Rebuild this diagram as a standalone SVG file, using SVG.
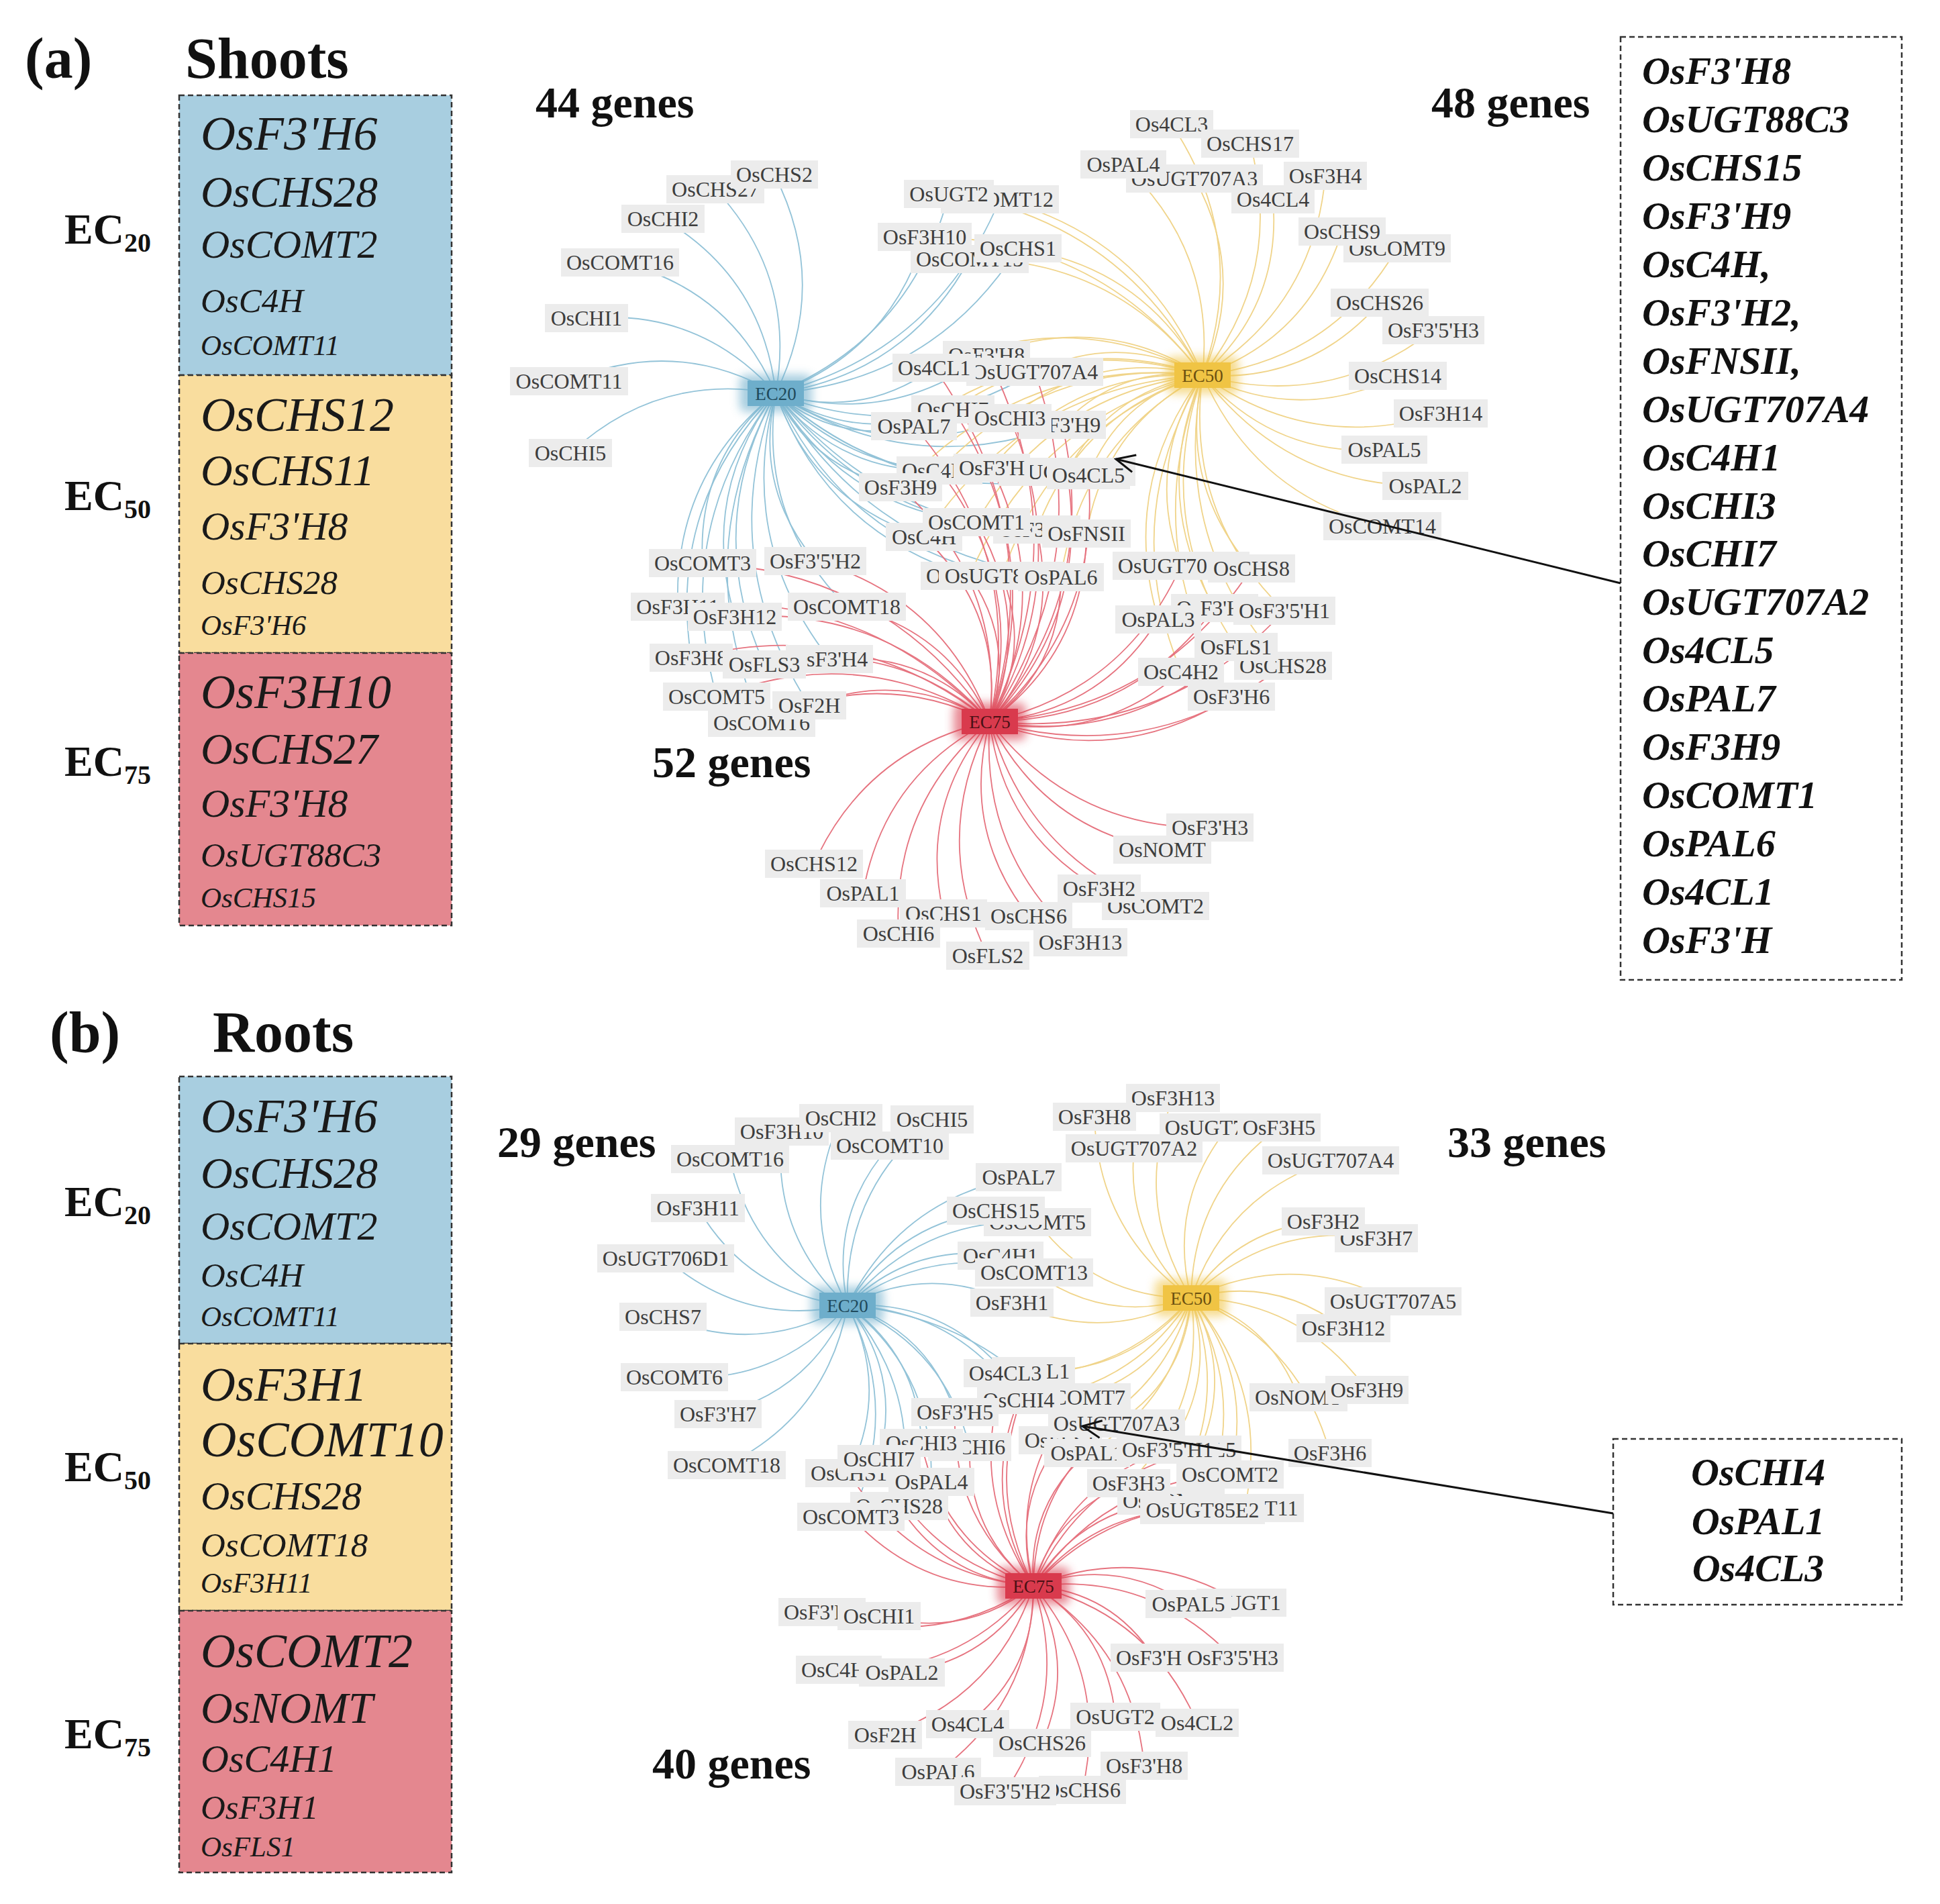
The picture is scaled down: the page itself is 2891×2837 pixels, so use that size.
<svg xmlns="http://www.w3.org/2000/svg" width="2891" height="2837" viewBox="0 0 2891 2837">
<defs>
<filter id="glow" x="-50%" y="-50%" width="200%" height="200%"><feGaussianBlur stdDeviation="7"/></filter>
<marker id="arr" markerUnits="userSpaceOnUse" markerWidth="34" markerHeight="34" viewBox="0 0 34 34" refX="31" refY="17" orient="auto"><path d="M3 4 L31 17 L3 30" fill="none" stroke="#111" stroke-width="3"/></marker>
</defs>
<style>
.lb rect{fill:#ececec;}
.lb text{font-family:"Liberation Serif",serif;font-size:32px;fill:#3d3d3d;text-anchor:middle;}
.e20 path{fill:none;stroke:#93c3d8;stroke-width:1.8;}
.e50 path{fill:none;stroke:#f0d48a;stroke-width:1.8;}
.e75 path{fill:none;stroke:#e6737f;stroke-width:1.8;}
.box{stroke:#333;stroke-width:2.5;stroke-dasharray:8 5;}
.bt{font-family:"Liberation Serif",serif;font-style:italic;fill:#1a1a1a;}
.rt{font-family:"Liberation Serif",serif;font-style:italic;font-weight:bold;font-size:58px;fill:#111;}
.hd{font-family:"Liberation Serif",serif;font-weight:bold;fill:#111;}
.ec text{font-family:"Liberation Serif",serif;font-size:27px;text-anchor:middle;}
.ar{stroke:#111;stroke-width:3;fill:none;}
</style>
<rect width="2891" height="2837" fill="#fff"/>

<!-- Headings -->
<g id="titles">
<text class="hd" x="37" y="116" font-size="86">(a)</text>
<text class="hd" x="276" y="116" font-size="86">Shoots</text>
<text class="hd" x="74" y="1567" font-size="86">(b)</text>
<text class="hd" x="317" y="1567" font-size="86">Roots</text>
<text class="hd" x="798" y="175" font-size="66">44 genes</text>
<text class="hd" x="2133" y="175" font-size="66">48 genes</text>
<text class="hd" x="972" y="1158" font-size="66">52 genes</text>
<text class="hd" x="741" y="1724" font-size="66">29 genes</text>
<text class="hd" x="2157" y="1724" font-size="66">33 genes</text>
<text class="hd" x="972" y="2650" font-size="66">40 genes</text>
</g>

<!-- Left side EC labels -->
<g id="ec-side-labels" class="hd">
<text x="96" y="363" font-size="64">EC<tspan dy="12" font-size="40">20</tspan></text>
<text x="96" y="760" font-size="64">EC<tspan dy="12" font-size="40">50</tspan></text>
<text x="96" y="1156" font-size="64">EC<tspan dy="12" font-size="40">75</tspan></text>
<text x="96" y="1812" font-size="64">EC<tspan dy="12" font-size="40">20</tspan></text>
<text x="96" y="2207" font-size="64">EC<tspan dy="12" font-size="40">50</tspan></text>
<text x="96" y="2605" font-size="64">EC<tspan dy="12" font-size="40">75</tspan></text>
</g>

<!-- Left boxes panel a -->
<g id="a-box-EC20">
<rect class="box" x="267" y="142" width="406" height="417" fill="#a8cee0"/>
<text class="bt" x="299" y="223" font-size="72">OsF3'H6</text>
<text class="bt" x="299" y="308" font-size="66">OsCHS28</text>
<text class="bt" x="299" y="384" font-size="60">OsCOMT2</text>
<text class="bt" x="299" y="465" font-size="51">OsC4H</text>
<text class="bt" x="299" y="529" font-size="43">OsCOMT11</text>
</g>
<g id="a-box-EC50">
<rect class="box" x="267" y="559" width="406" height="414" fill="#f9dd9e"/>
<text class="bt" x="299" y="642" font-size="72">OsCHS12</text>
<text class="bt" x="299" y="723" font-size="66">OsCHS11</text>
<text class="bt" x="299" y="804" font-size="60">OsF3'H8</text>
<text class="bt" x="299" y="885" font-size="51">OsCHS28</text>
<text class="bt" x="299" y="946" font-size="43">OsF3'H6</text>
</g>
<g id="a-box-EC75">
<rect class="box" x="267" y="973" width="406" height="406" fill="#e4878f"/>
<text class="bt" x="299" y="1055" font-size="72">OsF3H10</text>
<text class="bt" x="299" y="1138" font-size="66">OsCHS27</text>
<text class="bt" x="299" y="1217" font-size="60">OsF3'H8</text>
<text class="bt" x="299" y="1291" font-size="51">OsUGT88C3</text>
<text class="bt" x="299" y="1352" font-size="43">OsCHS15</text>
</g>

<!-- Left boxes panel b -->
<g id="b-box-EC20">
<rect class="box" x="267" y="1604" width="406" height="398" fill="#a8cee0"/>
<text class="bt" x="299" y="1687" font-size="72">OsF3'H6</text>
<text class="bt" x="299" y="1770" font-size="66">OsCHS28</text>
<text class="bt" x="299" y="1847" font-size="60">OsCOMT2</text>
<text class="bt" x="299" y="1917" font-size="51">OsC4H</text>
<text class="bt" x="299" y="1976" font-size="43">OsCOMT11</text>
</g>
<g id="b-box-EC50">
<rect class="box" x="267" y="2002" width="406" height="398" fill="#f9dd9e"/>
<text class="bt" x="299" y="2087" font-size="72">OsF3H1</text>
<text class="bt" x="299" y="2170" font-size="74">OsCOMT10</text>
<text class="bt" x="299" y="2249" font-size="60">OsCHS28</text>
<text class="bt" x="299" y="2319" font-size="51">OsCOMT18</text>
<text class="bt" x="299" y="2373" font-size="43">OsF3H11</text>
</g>
<g id="b-box-EC75">
<rect class="box" x="267" y="2400" width="406" height="390" fill="#e4878f"/>
<text class="bt" x="299" y="2484" font-size="72">OsCOMT2</text>
<text class="bt" x="299" y="2567" font-size="66">OsNOMT</text>
<text class="bt" x="299" y="2640" font-size="58">OsC4H1</text>
<text class="bt" x="299" y="2710" font-size="51">OsF3H1</text>
<text class="bt" x="299" y="2766" font-size="43">OsFLS1</text>
</g>

<!-- Right boxes -->
<g id="a-common-box">
<rect class="box" x="2415" y="55" width="419" height="1405" fill="#fff"/>
<text class="rt" x="2447" y="125">OsF3'H8</text>
<text class="rt" x="2447" y="197">OsUGT88C3</text>
<text class="rt" x="2447" y="269">OsCHS15</text>
<text class="rt" x="2447" y="341">OsF3'H9</text>
<text class="rt" x="2447" y="413">OsC4H,</text>
<text class="rt" x="2447" y="485">OsF3'H2,</text>
<text class="rt" x="2447" y="557">OsFNSII,</text>
<text class="rt" x="2447" y="629">OsUGT707A4</text>
<text class="rt" x="2447" y="701">OsC4H1</text>
<text class="rt" x="2447" y="773">OsCHI3</text>
<text class="rt" x="2447" y="844">OsCHI7</text>
<text class="rt" x="2447" y="916">OsUGT707A2</text>
<text class="rt" x="2447" y="988">Os4CL5</text>
<text class="rt" x="2447" y="1060">OsPAL7</text>
<text class="rt" x="2447" y="1132">OsF3H9</text>
<text class="rt" x="2447" y="1204">OsCOMT1</text>
<text class="rt" x="2447" y="1276">OsPAL6</text>
<text class="rt" x="2447" y="1348">Os4CL1</text>
<text class="rt" x="2447" y="1420">OsF3'H</text>
</g>
<g id="b-common-box">
<rect class="box" x="2404" y="2144" width="430" height="247" fill="#fff"/>
<text class="rt" x="2620" y="2213" text-anchor="middle">OsCHI4</text>
<text class="rt" x="2620" y="2286" text-anchor="middle">OsPAL1</text>
<text class="rt" x="2620" y="2356" text-anchor="middle">Os4CL3</text>
</g>

<!-- Connectors -->
<g id="connectors">
<g class="e20" transform="translate(1156 586)">
<path d="M0 0Q80.5 -163.5 -2 -326"/><path d="M0 0Q31 -174.5 -90 -304"/><path d="M0 0Q-19 -172 -168 -260"/><path d="M0 0Q-67 -155.5 -232 -195"/><path d="M0 0Q-113 -126.5 -282 -112"/><path d="M0 0Q-149.5 -86 -308 -18"/><path d="M0 0Q-175 -32 -306 89"/>
<path d="M0 0Q239 -61 334 -289"/><path d="M0 0Q203 -84 258 -297"/><path d="M0 0Q194.5 -28 289 -200"/><path d="M0 0Q169 -61 222 -233"/><path d="M0 0Q234.5 -18 361 -216"/>
<path d="M0 0Q171 50 314 -57"/><path d="M0 0Q127.5 40 236 -38"/><path d="M0 0Q201 80.5 386 -32"/><path d="M0 0Q126 78 264 24"/><path d="M0 0Q91 76 206 49"/><path d="M0 0Q165 106 349 37"/><path d="M0 0Q202 130 427 47"/><path d="M0 0Q93 118.5 244 115"/><path d="M0 0Q133 136 322 111"/><path d="M0 0Q188 167 434 117"/><path d="M0 0Q202.5 177.5 466 122"/><path d="M0 0Q58 116.5 186 140"/><path d="M0 0Q101.5 171 299 192"/><path d="M0 0Q57 162 221 214"/><path d="M0 0Q144 199 389 203"/><path d="M0 0Q179 220 463 209"/><path d="M0 0Q76.5 208 289 272"/><path d="M0 0Q100.5 220 337 272"/><path d="M0 0Q144 243 425 274"/>
<path d="M0 0Q-118 99 -109 253"/><path d="M0 0Q-33 140 59 250"/><path d="M0 0Q-152.5 122.5 -146 318"/><path d="M0 0Q-114 151 -61 333"/><path d="M0 0Q-26.5 185.5 106 318"/><path d="M0 0Q-161.5 165.5 -126 394"/><path d="M0 0Q-109.5 198 -17 404"/><path d="M0 0Q-59 218 80 396"/><path d="M0 0Q-157 204 -88 452"/><path d="M0 0Q-91 245 50 465"/><path d="M0 0Q-133 240 -21 491"/>
</g>
<g class="e50" transform="translate(1792 559)">
<path d="M0 0Q-85.5 -206.5 -302 -262"/><path d="M0 0Q-121.5 -229.5 -378 -270"/><path d="M0 0Q-130 -173 -347 -173"/><path d="M0 0Q-155.5 -206.5 -414 -206"/><path d="M0 0Q-90 -163 -275 -189"/>
<path d="M0 0Q-153.5 -95.5 -322 -30"/><path d="M0 0Q-197 -105.5 -400 -11"/><path d="M0 0Q-124 -65 -250 -5"/><path d="M0 0Q-199 -67.5 -372 51"/><path d="M0 0Q-234 -69.5 -430 76"/><path d="M0 0Q-159.5 -40 -287 64"/><path d="M0 0Q-123 -15 -209 74"/><path d="M0 0Q-231.5 -27 -392 142"/><path d="M0 0Q-191.5 -9.5 -314 138"/><path d="M0 0Q-137 21.5 -202 144"/><path d="M0 0Q-122 32 -170 149"/><path d="M0 0Q-267 -29 -450 167"/><path d="M0 0Q-223 25 -337 219"/><path d="M0 0Q-268 17 -415 241"/><path d="M0 0Q-181 53 -247 230"/><path d="M0 0Q-145.5 75 -173 236"/><path d="M0 0Q-248 63 -347 299"/><path d="M0 0Q-224 75 -299 299"/><path d="M0 0Q-181 98 -211 301"/>
<path d="M0 0Q-87 134 -32 284"/><path d="M0 0Q-35.5 162 73 288"/><path d="M0 0Q-124 165.5 -66 364"/><path d="M0 0Q-78 178 18 347"/><path d="M0 0Q-27 206 122 351"/><path d="M0 0Q-76 215 50 405"/><path d="M0 0Q-126.5 213 -32 442"/><path d="M0 0Q-48 246.5 120 433"/><path d="M0 0Q-98 250 43 479"/>
<path d="M0 0Q70.5 -198.5 -46 -374"/><path d="M0 0Q122 -155 71 -345"/><path d="M0 0Q19.5 -186.5 -118 -314"/><path d="M0 0Q67 -149.5 -12 -293"/><path d="M0 0Q166 -103 183 -297"/><path d="M0 0Q118 -105 105 -262"/><path d="M0 0Q157.5 -55 208 -214"/><path d="M0 0Q192 -22 290 -189"/><path d="M0 0Q159 12 264 -108"/><path d="M0 0Q189 52.5 344 -67"/><path d="M0 0Q145 73 291 1"/><path d="M0 0Q163 117 355 57"/><path d="M0 0Q108 123 271 111"/><path d="M0 0Q125 165.5 332 165"/><path d="M0 0Q78 179.5 268 225"/>
</g>
<g class="e75" transform="translate(1475 1075)">
<path d="M0 0Q134 -274 -5 -546"/><path d="M0 0Q90 -284 -83 -527"/><path d="M0 0Q164 -244 67 -521"/><path d="M0 0Q89 -246 -55 -465"/><path d="M0 0Q53.5 -248 -113 -440"/><path d="M0 0Q128 -218.5 30 -452"/><path d="M0 0Q164.5 -194 108 -442"/><path d="M0 0Q56 -206 -75 -374"/><path d="M0 0Q96 -188 3 -378"/><path d="M0 0Q150.5 -157 115 -372"/><path d="M0 0Q165 -147 147 -367"/><path d="M0 0Q21 -208 -133 -349"/><path d="M0 0Q64 -153.5 -20 -297"/><path d="M0 0Q20 -162 -98 -275"/><path d="M0 0Q106.5 -125.5 70 -286"/><path d="M0 0Q142 -104 144 -280"/><path d="M0 0Q39 -116 -30 -217"/><path d="M0 0Q63 -104 18 -217"/><path d="M0 0Q107 -81 106 -215"/>
<path d="M0 0Q-155 -225 -428 -236"/><path d="M0 0Q-70 -184.5 -260 -239"/><path d="M0 0Q-190 -202 -465 -171"/><path d="M0 0Q-151 -173 -380 -156"/><path d="M0 0Q-64 -139 -213 -171"/><path d="M0 0Q-199 -159 -445 -95"/><path d="M0 0Q-147 -126.5 -336 -85"/><path d="M0 0Q-96 -106 -239 -93"/><path d="M0 0Q-194 -120 -407 -37"/><path d="M0 0Q-128.5 -79 -269 -24"/><path d="M0 0Q-170.5 -84 -340 2"/>
<path d="M0 0Q200.5 -45 285 -232"/><path d="M0 0Q252 -16.5 390 -228"/><path d="M0 0Q163.5 -13 251 -152"/><path d="M0 0Q210 -1 335 -169"/><path d="M0 0Q261 27 439 -165"/><path d="M0 0Q211 36 367 -111"/><path d="M0 0Q161 34 285 -74"/><path d="M0 0Q239 68 437 -83"/><path d="M0 0Q189 71.5 360 -37"/>
<path d="M0 0Q124.5 161 328 158"/><path d="M0 0Q81 160 257 191"/><path d="M0 0Q-184 40.5 -262 212"/><path d="M0 0Q-158.5 81 -189 256"/><path d="M0 0Q19 165 163 249"/><path d="M0 0Q55 199 247 275"/><path d="M0 0Q-106 126 -69 286"/><path d="M0 0Q-43.5 159.5 58 290"/><path d="M0 0Q-147 124 -136 316"/><path d="M0 0Q-89 174 -3 349"/><path d="M0 0Q-15 198 135 329"/>
</g>

<g class="e20" transform="translate(1263 1945)">
<path d="M0 0Q-114 -105 -98 -259"/><path d="M0 0Q-75 -137 -10 -279"/><path d="M0 0Q-6 -170 126 -277"/><path d="M0 0Q-142 -65 -175 -218"/><path d="M0 0Q-28 -135 63 -238"/><path d="M0 0Q80 -159 255 -191"/><path d="M0 0Q-148 -17 -223 -145"/><path d="M0 0Q75 -126 221 -141"/><path d="M0 0Q-153 33 -271 -70"/><path d="M0 0Q95.5 -94 228 -74"/><path d="M0 0Q-133 77 -275 17"/><path d="M0 0Q-102 118 -258 107"/><path d="M0 0Q-56 129 -193 162"/><path d="M0 0Q-30.5 164 -180 238"/>
<path d="M0 0Q110.5 -133 283 -124"/><path d="M0 0Q127 -94 278 -49"/><path d="M0 0Q121.5 -63 245 -4"/>
<path d="M0 0Q143 -8 235 101"/><path d="M0 0Q163 7 255 141"/><path d="M0 0Q233.5 21 357 220"/>
<path d="M0 0Q120 39.5 160 159"/><path d="M0 0Q106 75 110 205"/><path d="M0 0Q144 60 182 211"/><path d="M0 0Q81 103 47 229"/><path d="M0 0Q63.5 124.5 2 250"/><path d="M0 0Q128 100 125 263"/><path d="M0 0Q113 130 77 299"/><path d="M0 0Q81 156 5 315"/>
</g>
<g class="e50" transform="translate(1775 1934)">
<path d="M0 0Q-143 1 -229 -113"/><path d="M0 0Q-126.5 39.5 -234 -38"/><path d="M0 0Q-132 70 -267 7"/>
<path d="M0 0Q-110.5 125 -277 112"/><path d="M0 0Q-90.5 140 -257 152"/><path d="M0 0Q-20 154 -155 231"/>
<path d="M0 0Q-90 113 -235 109"/><path d="M0 0Q-48 116.5 -170 148"/><path d="M0 0Q-9 121 -111 187"/><path d="M0 0Q-44.5 155 -195 212"/><path d="M0 0Q39 122 -35 226"/><path d="M0 0Q63 110 13 226"/><path d="M0 0Q22.5 161 -93 276"/><path d="M0 0Q95 117 58 263"/><path d="M0 0Q60.5 158.5 -30 302"/><path d="M0 0Q87.5 154 17 316"/><path d="M0 0Q118 136.5 80 313"/>
<path d="M0 0Q161 64 207 231"/><path d="M0 0Q-88 -142 -27 -298"/><path d="M0 0Q-139.5 -99 -144 -270"/><path d="M0 0Q-98 -90 -85 -223"/><path d="M0 0Q-36 -141 55 -254"/><path d="M0 0Q2 -160 131 -254"/><path d="M0 0Q53 -154.5 208 -205"/><path d="M0 0Q70 -106 197 -114"/><path d="M0 0Q116 -113.5 276 -89"/><path d="M0 0Q152 -73 301 5"/><path d="M0 0Q125 -34 227 45"/><path d="M0 0Q117 34 160 148"/><path d="M0 0Q165 3 262 137"/>
</g>
<g class="e75" transform="translate(1540 2363)">
<path d="M0 0Q-100 -148 -42 -317"/><path d="M0 0Q-80 -133 -22 -277"/><path d="M0 0Q-9.5 -119 80 -198"/>
<path d="M0 0Q-123 -100 -117 -259"/><path d="M0 0Q-137 -65 -167 -213"/><path d="M0 0Q-99 -80 -95 -207"/><path d="M0 0Q-162 -37 -230 -189"/><path d="M0 0Q-179.5 -15 -275 -168"/><path d="M0 0Q-115 -39.5 -152 -155"/><path d="M0 0Q-130 -9.5 -200 -119"/><path d="M0 0Q-162 16.5 -272 -103"/>
<path d="M0 0Q-80 -160 0 -320"/><path d="M0 0Q-38 -157 65 -281"/><path d="M0 0Q1.5 -152 124 -242"/><path d="M0 0Q-34 -118.5 40 -217"/><path d="M0 0Q49 -151.5 200 -203"/><path d="M0 0Q73 -163.5 248 -203"/><path d="M0 0Q33 -112 142 -153"/><path d="M0 0Q105 -156 293 -166"/><path d="M0 0Q71 -115 205 -127"/><path d="M0 0Q98 -119.5 252 -113"/><path d="M0 0Q128.5 -137 315 -116"/>
<path d="M0 0Q-148 98 -315 39"/><path d="M0 0Q-104 80 -230 45"/><path d="M0 0Q-114 135 -290 125"/><path d="M0 0Q-66 113.5 -196 129"/><path d="M0 0Q122 -44 231 27"/><path d="M0 0Q161 -65 310 25"/><path d="M0 0Q117 8.5 180 107"/><path d="M0 0Q175 -21 297 107"/><path d="M0 0Q-55 166 -221 222"/><path d="M0 0Q2.5 127.5 -98 206"/><path d="M0 0Q65 114 13 234"/><path d="M0 0Q110 67 122 195"/><path d="M0 0Q173 41 244 204"/><path d="M0 0Q-2 174 -142 277"/><path d="M0 0Q149.5 93 165 268"/><path d="M0 0Q55.5 163.5 -42 306"/><path d="M0 0Q112.5 134 73 304"/>
</g>
</g>

<!-- Gene labels panel a -->
<g id="a-labels" class="lb">
<g id="a-OsCHS27" transform="translate(1066 282)"><rect x="-73" y="-21" width="146" height="42"/><text y="11">OsCHS27</text></g>
<g id="a-OsCHS2" transform="translate(1154 260)"><rect x="-65" y="-21" width="130" height="42"/><text y="11">OsCHS2</text></g>
<g id="a-OsCHI2" transform="translate(988 326)"><rect x="-62" y="-21" width="124" height="42"/><text y="11">OsCHI2</text></g>
<g id="a-OsCOMT16" transform="translate(924 391)"><rect x="-88" y="-21" width="176" height="42"/><text y="11">OsCOMT16</text></g>
<g id="a-OsCHI1" transform="translate(874 474)"><rect x="-62" y="-21" width="124" height="42"/><text y="11">OsCHI1</text></g>
<g id="a-OsCOMT11" transform="translate(848 568)"><rect x="-88" y="-21" width="176" height="42"/><text y="11">OsCOMT11</text></g>
<g id="a-OsCHI5" transform="translate(850 675)"><rect x="-62" y="-21" width="124" height="42"/><text y="11">OsCHI5</text></g>
<g id="a-OsCOMT12" transform="translate(1490 297)"><rect x="-88" y="-21" width="176" height="42"/><text y="11">OsCOMT12</text></g>
<g id="a-OsUGT2" transform="translate(1414 289)"><rect x="-67" y="-21" width="134" height="42"/><text y="11">OsUGT2</text></g>
<g id="a-OsF3H10" transform="translate(1378 353)"><rect x="-70" y="-21" width="140" height="42"/><text y="11">OsF3H10</text></g>
<g id="a-OsCOMT15" transform="translate(1445 386)"><rect x="-88" y="-21" width="176" height="42"/><text y="11">OsCOMT15</text></g>
<g id="a-OsCHS1" transform="translate(1517 370)"><rect x="-65" y="-21" width="130" height="42"/><text y="11">OsCHS1</text></g>
<g id="a-OsF3pH8" transform="translate(1470 529)"><rect x="-65" y="-21" width="130" height="42"/><text y="11">OsF3'H8</text></g>
<g id="a-OsUGT707A4" transform="translate(1542 554)"><rect x="-102" y="-21" width="204" height="42"/><text y="11">OsUGT707A4</text></g>
<g id="a-Os4CL1" transform="translate(1392 548)"><rect x="-62" y="-21" width="124" height="42"/><text y="11">Os4CL1</text></g>
<g id="a-OsCHI7" transform="translate(1420 610)"><rect x="-62" y="-21" width="124" height="42"/><text y="11">OsCHI7</text></g>
<g id="a-OsF3pH9" transform="translate(1583 633)"><rect x="-65" y="-21" width="130" height="42"/><text y="11">OsF3'H9</text></g>
<g id="a-OsPAL7" transform="translate(1362 635)"><rect x="-64" y="-21" width="128" height="42"/><text y="11">OsPAL7</text></g>
<g id="a-OsCHI3" transform="translate(1505 623)"><rect x="-62" y="-21" width="124" height="42"/><text y="11">OsCHI3</text></g>
<g id="a-OsC4H1" transform="translate(1400 701)"><rect x="-64" y="-21" width="128" height="42"/><text y="11">OsC4H1</text></g>
<g id="a-OsUGT707A2" transform="translate(1590 703)"><rect x="-102" y="-21" width="204" height="42"/><text y="11">OsUGT707A2</text></g>
<g id="a-OsF3pH" transform="translate(1478 697)"><rect x="-57" y="-21" width="114" height="42"/><text y="11">OsF3'H</text></g>
<g id="a-Os4CL5" transform="translate(1622 708)"><rect x="-62" y="-21" width="124" height="42"/><text y="11">Os4CL5</text></g>
<g id="a-OsF3H9" transform="translate(1342 726)"><rect x="-62" y="-21" width="124" height="42"/><text y="11">OsF3H9</text></g>
<g id="a-OsF3pH2" transform="translate(1545 789)"><rect x="-65" y="-21" width="130" height="42"/><text y="11">OsF3'H2</text></g>
<g id="a-OsC4H" transform="translate(1377 800)"><rect x="-57" y="-21" width="114" height="42"/><text y="11">OsC4H</text></g>
<g id="a-OsCOMT1" transform="translate(1455 778)"><rect x="-80" y="-21" width="160" height="42"/><text y="11">OsCOMT1</text></g>
<g id="a-OsFNSII" transform="translate(1619 795)"><rect x="-66" y="-21" width="132" height="42"/><text y="11">OsFNSII</text></g>
<g id="a-OsCHS15" transform="translate(1445 858)"><rect x="-73" y="-21" width="146" height="42"/><text y="11">OsCHS15</text></g>
<g id="a-OsUGT88C3" transform="translate(1493 858)"><rect x="-94" y="-21" width="188" height="42"/><text y="11">OsUGT88C3</text></g>
<g id="a-OsPAL6" transform="translate(1581 860)"><rect x="-64" y="-21" width="128" height="42"/><text y="11">OsPAL6</text></g>
<g id="a-OsCOMT3" transform="translate(1047 839)"><rect x="-80" y="-21" width="160" height="42"/><text y="11">OsCOMT3</text></g>
<g id="a-OsF3p5pH2" transform="translate(1215 836)"><rect x="-76" y="-21" width="152" height="42"/><text y="11">OsF3'5'H2</text></g>
<g id="a-OsF3H11" transform="translate(1010 904)"><rect x="-70" y="-21" width="140" height="42"/><text y="11">OsF3H11</text></g>
<g id="a-OsF3H12" transform="translate(1095 919)"><rect x="-70" y="-21" width="140" height="42"/><text y="11">OsF3H12</text></g>
<g id="a-OsCOMT18" transform="translate(1262 904)"><rect x="-88" y="-21" width="176" height="42"/><text y="11">OsCOMT18</text></g>
<g id="a-OsF3H8" transform="translate(1030 980)"><rect x="-62" y="-21" width="124" height="42"/><text y="11">OsF3H8</text></g>
<g id="a-OsF3pH4" transform="translate(1236 982)"><rect x="-65" y="-21" width="130" height="42"/><text y="11">OsF3'H4</text></g>
<g id="a-OsFLS3" transform="translate(1139 990)"><rect x="-62" y="-21" width="124" height="42"/><text y="11">OsFLS3</text></g>
<g id="a-OsCOMT6" transform="translate(1135 1077)"><rect x="-80" y="-21" width="160" height="42"/><text y="11">OsCOMT6</text></g>
<g id="a-OsCOMT5" transform="translate(1068 1038)"><rect x="-80" y="-21" width="160" height="42"/><text y="11">OsCOMT5</text></g>
<g id="a-OsF2H" transform="translate(1206 1051)"><rect x="-55" y="-21" width="110" height="42"/><text y="11">OsF2H</text></g>
<g id="a-OsUGT707A1" transform="translate(1760 843)"><rect x="-102" y="-21" width="204" height="42"/><text y="11">OsUGT707A1</text></g>
<g id="a-OsCHS8" transform="translate(1865 847)"><rect x="-65" y="-21" width="130" height="42"/><text y="11">OsCHS8</text></g>
<g id="a-OsF3pH1" transform="translate(1810 906)"><rect x="-65" y="-21" width="130" height="42"/><text y="11">OsF3'H1</text></g>
<g id="a-OsF3p5pH1" transform="translate(1914 910)"><rect x="-76" y="-21" width="152" height="42"/><text y="11">OsF3'5'H1</text></g>
<g id="a-OsPAL3" transform="translate(1726 923)"><rect x="-64" y="-21" width="128" height="42"/><text y="11">OsPAL3</text></g>
<g id="a-OsCHS28" transform="translate(1912 992)"><rect x="-73" y="-21" width="146" height="42"/><text y="11">OsCHS28</text></g>
<g id="a-OsFLS1" transform="translate(1842 964)"><rect x="-62" y="-21" width="124" height="42"/><text y="11">OsFLS1</text></g>
<g id="a-OsC4H2" transform="translate(1760 1001)"><rect x="-64" y="-21" width="128" height="42"/><text y="11">OsC4H2</text></g>
<g id="a-OsF3pH6" transform="translate(1835 1038)"><rect x="-65" y="-21" width="130" height="42"/><text y="11">OsF3'H6</text></g>
<g id="a-OsUGT707A3" transform="translate(1780 266)"><rect x="-102" y="-21" width="204" height="42"/><text y="11">OsUGT707A3</text></g>
<g id="a-Os4CL3" transform="translate(1746 185)"><rect x="-62" y="-21" width="124" height="42"/><text y="11">Os4CL3</text></g>
<g id="a-OsCHS17" transform="translate(1863 214)"><rect x="-73" y="-21" width="146" height="42"/><text y="11">OsCHS17</text></g>
<g id="a-OsPAL4" transform="translate(1674 245)"><rect x="-64" y="-21" width="128" height="42"/><text y="11">OsPAL4</text></g>
<g id="a-OsF3H4" transform="translate(1975 262)"><rect x="-62" y="-21" width="124" height="42"/><text y="11">OsF3H4</text></g>
<g id="a-Os4CL4" transform="translate(1897 297)"><rect x="-62" y="-21" width="124" height="42"/><text y="11">Os4CL4</text></g>
<g id="a-OsCOMT9" transform="translate(2082 370)"><rect x="-80" y="-21" width="160" height="42"/><text y="11">OsCOMT9</text></g>
<g id="a-OsCHS9" transform="translate(2000 345)"><rect x="-65" y="-21" width="130" height="42"/><text y="11">OsCHS9</text></g>
<g id="a-OsCHS26" transform="translate(2056 451)"><rect x="-73" y="-21" width="146" height="42"/><text y="11">OsCHS26</text></g>
<g id="a-OsF3p5pH3" transform="translate(2136 492)"><rect x="-76" y="-21" width="152" height="42"/><text y="11">OsF3'5'H3</text></g>
<g id="a-OsCHS14" transform="translate(2083 560)"><rect x="-73" y="-21" width="146" height="42"/><text y="11">OsCHS14</text></g>
<g id="a-OsF3H14" transform="translate(2147 616)"><rect x="-70" y="-21" width="140" height="42"/><text y="11">OsF3H14</text></g>
<g id="a-OsPAL5" transform="translate(2063 670)"><rect x="-64" y="-21" width="128" height="42"/><text y="11">OsPAL5</text></g>
<g id="a-OsPAL2" transform="translate(2124 724)"><rect x="-64" y="-21" width="128" height="42"/><text y="11">OsPAL2</text></g>
<g id="a-OsCOMT14" transform="translate(2060 784)"><rect x="-88" y="-21" width="176" height="42"/><text y="11">OsCOMT14</text></g>
<g id="a-OsF3pH3" transform="translate(1803 1233)"><rect x="-65" y="-21" width="130" height="42"/><text y="11">OsF3'H3</text></g>
<g id="a-OsNOMT" transform="translate(1732 1266)"><rect x="-73" y="-21" width="146" height="42"/><text y="11">OsNOMT</text></g>
<g id="a-OsCHS12" transform="translate(1213 1287)"><rect x="-73" y="-21" width="146" height="42"/><text y="11">OsCHS12</text></g>
<g id="a-OsPAL1" transform="translate(1286 1331)"><rect x="-64" y="-21" width="128" height="42"/><text y="11">OsPAL1</text></g>
<g id="a-OsCOMT2" transform="translate(1722 1350)"><rect x="-80" y="-21" width="160" height="42"/><text y="11">OsCOMT2</text></g>
<g id="a-OsF3H2" transform="translate(1638 1324)"><rect x="-62" y="-21" width="124" height="42"/><text y="11">OsF3H2</text></g>
<g id="a-OsCHS1-b" transform="translate(1406 1361)"><rect x="-65" y="-21" width="130" height="42"/><text y="11">OsCHS1</text></g>
<g id="a-OsCHS6" transform="translate(1533 1365)"><rect x="-65" y="-21" width="130" height="42"/><text y="11">OsCHS6</text></g>
<g id="a-OsCHI6" transform="translate(1339 1391)"><rect x="-62" y="-21" width="124" height="42"/><text y="11">OsCHI6</text></g>
<g id="a-OsFLS2" transform="translate(1472 1424)"><rect x="-62" y="-21" width="124" height="42"/><text y="11">OsFLS2</text></g>
<g id="a-OsF3H13" transform="translate(1610 1404)"><rect x="-70" y="-21" width="140" height="42"/><text y="11">OsF3H13</text></g>
</g>

<!-- Gene labels panel b -->
<g id="b-labels" class="lb">
<g id="b-OsF3H10" transform="translate(1165 1686)"><rect x="-70" y="-21" width="140" height="42"/><text y="11">OsF3H10</text></g>
<g id="b-OsCHI2" transform="translate(1253 1666)"><rect x="-62" y="-21" width="124" height="42"/><text y="11">OsCHI2</text></g>
<g id="b-OsCHI5" transform="translate(1389 1668)"><rect x="-62" y="-21" width="124" height="42"/><text y="11">OsCHI5</text></g>
<g id="b-OsCOMT16" transform="translate(1088 1727)"><rect x="-88" y="-21" width="176" height="42"/><text y="11">OsCOMT16</text></g>
<g id="b-OsCOMT10" transform="translate(1326 1707)"><rect x="-88" y="-21" width="176" height="42"/><text y="11">OsCOMT10</text></g>
<g id="b-OsPAL7" transform="translate(1518 1754)"><rect x="-64" y="-21" width="128" height="42"/><text y="11">OsPAL7</text></g>
<g id="b-OsF3H11" transform="translate(1040 1800)"><rect x="-70" y="-21" width="140" height="42"/><text y="11">OsF3H11</text></g>
<g id="b-OsCOMT5" transform="translate(1546 1821)"><rect x="-80" y="-21" width="160" height="42"/><text y="11">OsCOMT5</text></g>
<g id="b-OsCHS15" transform="translate(1484 1804)"><rect x="-73" y="-21" width="146" height="42"/><text y="11">OsCHS15</text></g>
<g id="b-OsUGT706D1" transform="translate(992 1875)"><rect x="-102" y="-21" width="204" height="42"/><text y="11">OsUGT706D1</text></g>
<g id="b-OsC4H1" transform="translate(1491 1871)"><rect x="-64" y="-21" width="128" height="42"/><text y="11">OsC4H1</text></g>
<g id="b-OsCOMT13" transform="translate(1541 1896)"><rect x="-88" y="-21" width="176" height="42"/><text y="11">OsCOMT13</text></g>
<g id="b-OsF3H1" transform="translate(1508 1941)"><rect x="-62" y="-21" width="124" height="42"/><text y="11">OsF3H1</text></g>
<g id="b-OsCHS7" transform="translate(988 1962)"><rect x="-65" y="-21" width="130" height="42"/><text y="11">OsCHS7</text></g>
<g id="b-OsCOMT6" transform="translate(1005 2052)"><rect x="-80" y="-21" width="160" height="42"/><text y="11">OsCOMT6</text></g>
<g id="b-OsF3pH7" transform="translate(1070 2107)"><rect x="-65" y="-21" width="130" height="42"/><text y="11">OsF3'H7</text></g>
<g id="b-OsCOMT18" transform="translate(1083 2183)"><rect x="-88" y="-21" width="176" height="42"/><text y="11">OsCOMT18</text></g>
<g id="b-Os4CL1" transform="translate(1540 2043)"><rect x="-62" y="-21" width="124" height="42"/><text y="11">Os4CL1</text></g>
<g id="b-Os4CL3" transform="translate(1498 2046)"><rect x="-62" y="-21" width="124" height="42"/><text y="11">Os4CL3</text></g>
<g id="b-OsCOMT7" transform="translate(1605 2082)"><rect x="-80" y="-21" width="160" height="42"/><text y="11">OsCOMT7</text></g>
<g id="b-OsCHI4" transform="translate(1518 2086)"><rect x="-62" y="-21" width="124" height="42"/><text y="11">OsCHI4</text></g>
<g id="b-OsF3pH5" transform="translate(1423 2104)"><rect x="-65" y="-21" width="130" height="42"/><text y="11">OsF3'H5</text></g>
<g id="b-OsFLS1" transform="translate(1580 2146)"><rect x="-62" y="-21" width="124" height="42"/><text y="11">OsFLS1</text></g>
<g id="b-OsUGT707A3" transform="translate(1664 2121)"><rect x="-102" y="-21" width="204" height="42"/><text y="11">OsUGT707A3</text></g>
<g id="b-OsPAL1" transform="translate(1620 2165)"><rect x="-64" y="-21" width="128" height="42"/><text y="11">OsPAL1</text></g>
<g id="b-Os4CL5" transform="translate(1788 2160)"><rect x="-62" y="-21" width="124" height="42"/><text y="11">Os4CL5</text></g>
<g id="b-OsF3p5pH1" transform="translate(1740 2160)"><rect x="-76" y="-21" width="152" height="42"/><text y="11">OsF3'5'H1</text></g>
<g id="b-OsCHI6" transform="translate(1445 2156)"><rect x="-62" y="-21" width="124" height="42"/><text y="11">OsCHI6</text></g>
<g id="b-OsCHI3" transform="translate(1373 2150)"><rect x="-62" y="-21" width="124" height="42"/><text y="11">OsCHI3</text></g>
<g id="b-OsCHS1" transform="translate(1265 2195)"><rect x="-65" y="-21" width="130" height="42"/><text y="11">OsCHS1</text></g>
<g id="b-OsCHI7" transform="translate(1310 2174)"><rect x="-62" y="-21" width="124" height="42"/><text y="11">OsCHI7</text></g>
<g id="b-OsCHS28" transform="translate(1340 2244)"><rect x="-73" y="-21" width="146" height="42"/><text y="11">OsCHS28</text></g>
<g id="b-OsPAL4" transform="translate(1388 2208)"><rect x="-64" y="-21" width="128" height="42"/><text y="11">OsPAL4</text></g>
<g id="b-OsCOMT3" transform="translate(1268 2260)"><rect x="-80" y="-21" width="160" height="42"/><text y="11">OsCOMT3</text></g>
<g id="b-OsCOMT1" transform="translate(1745 2236)"><rect x="-80" y="-21" width="160" height="42"/><text y="11">OsCOMT1</text></g>
<g id="b-OsCOMT11" transform="translate(1855 2247)"><rect x="-88" y="-21" width="176" height="42"/><text y="11">OsCOMT11</text></g>
<g id="b-OsUGT85E2" transform="translate(1792 2250)"><rect x="-93" y="-21" width="186" height="42"/><text y="11">OsUGT85E2</text></g>
<g id="b-OsF3H3" transform="translate(1682 2210)"><rect x="-62" y="-21" width="124" height="42"/><text y="11">OsF3H3</text></g>
<g id="b-OsCOMT2" transform="translate(1833 2197)"><rect x="-80" y="-21" width="160" height="42"/><text y="11">OsCOMT2</text></g>
<g id="b-OsF3H6" transform="translate(1982 2165)"><rect x="-62" y="-21" width="124" height="42"/><text y="11">OsF3H6</text></g>
<g id="b-OsF3H13" transform="translate(1748 1636)"><rect x="-70" y="-21" width="140" height="42"/><text y="11">OsF3H13</text></g>
<g id="b-OsF3H8" transform="translate(1631 1664)"><rect x="-62" y="-21" width="124" height="42"/><text y="11">OsF3H8</text></g>
<g id="b-OsUGT707A2" transform="translate(1690 1711)"><rect x="-102" y="-21" width="204" height="42"/><text y="11">OsUGT707A2</text></g>
<g id="b-OsUGT707A1" transform="translate(1830 1680)"><rect x="-102" y="-21" width="204" height="42"/><text y="11">OsUGT707A1</text></g>
<g id="b-OsF3H5" transform="translate(1906 1680)"><rect x="-62" y="-21" width="124" height="42"/><text y="11">OsF3H5</text></g>
<g id="b-OsUGT707A4" transform="translate(1983 1729)"><rect x="-102" y="-21" width="204" height="42"/><text y="11">OsUGT707A4</text></g>
<g id="b-OsF3H7" transform="translate(2051 1845)"><rect x="-62" y="-21" width="124" height="42"/><text y="11">OsF3H7</text></g>
<g id="b-OsF3H2" transform="translate(1972 1820)"><rect x="-62" y="-21" width="124" height="42"/><text y="11">OsF3H2</text></g>
<g id="b-OsUGT707A5" transform="translate(2076 1939)"><rect x="-102" y="-21" width="204" height="42"/><text y="11">OsUGT707A5</text></g>
<g id="b-OsF3H12" transform="translate(2002 1979)"><rect x="-70" y="-21" width="140" height="42"/><text y="11">OsF3H12</text></g>
<g id="b-OsNOMT" transform="translate(1935 2082)"><rect x="-73" y="-21" width="146" height="42"/><text y="11">OsNOMT</text></g>
<g id="b-OsF3H9" transform="translate(2037 2071)"><rect x="-62" y="-21" width="124" height="42"/><text y="11">OsF3H9</text></g>
<g id="b-OsF3pH4" transform="translate(1225 2402)"><rect x="-65" y="-21" width="130" height="42"/><text y="11">OsF3'H4</text></g>
<g id="b-OsCHI1" transform="translate(1310 2408)"><rect x="-62" y="-21" width="124" height="42"/><text y="11">OsCHI1</text></g>
<g id="b-OsC4H1-r" transform="translate(1250 2488)"><rect x="-64" y="-21" width="128" height="42"/><text y="11">OsC4H1</text></g>
<g id="b-OsPAL2" transform="translate(1344 2492)"><rect x="-64" y="-21" width="128" height="42"/><text y="11">OsPAL2</text></g>
<g id="b-OsUGT1" transform="translate(1850 2388)"><rect x="-67" y="-21" width="134" height="42"/><text y="11">OsUGT1</text></g>
<g id="b-OsPAL5" transform="translate(1771 2390)"><rect x="-64" y="-21" width="128" height="42"/><text y="11">OsPAL5</text></g>
<g id="b-OsF3pH1" transform="translate(1720 2470)"><rect x="-65" y="-21" width="130" height="42"/><text y="11">OsF3'H1</text></g>
<g id="b-OsF3p5pH3" transform="translate(1837 2470)"><rect x="-76" y="-21" width="152" height="42"/><text y="11">OsF3'5'H3</text></g>
<g id="b-OsF2H" transform="translate(1319 2585)"><rect x="-55" y="-21" width="110" height="42"/><text y="11">OsF2H</text></g>
<g id="b-Os4CL4" transform="translate(1442 2569)"><rect x="-62" y="-21" width="124" height="42"/><text y="11">Os4CL4</text></g>
<g id="b-OsCHS26" transform="translate(1553 2597)"><rect x="-73" y="-21" width="146" height="42"/><text y="11">OsCHS26</text></g>
<g id="b-OsUGT2" transform="translate(1662 2558)"><rect x="-67" y="-21" width="134" height="42"/><text y="11">OsUGT2</text></g>
<g id="b-Os4CL2" transform="translate(1784 2567)"><rect x="-62" y="-21" width="124" height="42"/><text y="11">Os4CL2</text></g>
<g id="b-OsPAL6" transform="translate(1398 2640)"><rect x="-64" y="-21" width="128" height="42"/><text y="11">OsPAL6</text></g>
<g id="b-OsF3pH8" transform="translate(1705 2631)"><rect x="-65" y="-21" width="130" height="42"/><text y="11">OsF3'H8</text></g>
<g id="b-OsCHS6" transform="translate(1613 2667)"><rect x="-65" y="-21" width="130" height="42"/><text y="11">OsCHS6</text></g>
<g id="b-OsF3p5pH2" transform="translate(1498 2669)"><rect x="-76" y="-21" width="152" height="42"/><text y="11">OsF3'5'H2</text></g>
</g>

<!-- EC hub nodes -->
<g id="a-EC20" class="ec" transform="translate(1156 586)"><rect x="-54" y="-28" width="108" height="56" rx="10" fill="#6eaecb" opacity="0.6" filter="url(#glow)"/><rect x="-42" y="-19" width="84" height="38" fill="#6eaecb"/><text y="10" fill="#1f4a5c">EC20</text></g>
<g id="a-EC50" class="ec" transform="translate(1792 559)"><rect x="-54" y="-28" width="108" height="56" rx="10" fill="#f0c444" opacity="0.6" filter="url(#glow)"/><rect x="-42" y="-19" width="84" height="38" fill="#f0c444"/><text y="10" fill="#6a5010">EC50</text></g>
<g id="a-EC75" class="ec" transform="translate(1475 1075)"><rect x="-54" y="-28" width="108" height="56" rx="10" fill="#d93a4d" opacity="0.6" filter="url(#glow)"/><rect x="-42" y="-19" width="84" height="38" fill="#d93a4d"/><text y="10" fill="#4a1015">EC75</text></g>
<g id="b-EC20" class="ec" transform="translate(1263 1945)"><rect x="-54" y="-28" width="108" height="56" rx="10" fill="#6eaecb" opacity="0.6" filter="url(#glow)"/><rect x="-42" y="-19" width="84" height="38" fill="#6eaecb"/><text y="10" fill="#1f4a5c">EC20</text></g>
<g id="b-EC50" class="ec" transform="translate(1775 1934)"><rect x="-54" y="-28" width="108" height="56" rx="10" fill="#f0c444" opacity="0.6" filter="url(#glow)"/><rect x="-42" y="-19" width="84" height="38" fill="#f0c444"/><text y="10" fill="#6a5010">EC50</text></g>
<g id="b-EC75" class="ec" transform="translate(1540 2363)"><rect x="-54" y="-28" width="108" height="56" rx="10" fill="#d93a4d" opacity="0.6" filter="url(#glow)"/><rect x="-42" y="-19" width="84" height="38" fill="#d93a4d"/><text y="10" fill="#4a1015">EC75</text></g>

<!-- Pointer arrows -->
<g id="arrows">
<line class="ar" x1="2415" y1="869" x2="1663" y2="684" marker-end="url(#arr)"/>
<line class="ar" x1="2404" y1="2255" x2="1613" y2="2125" marker-end="url(#arr)"/>
</g>
</svg>
